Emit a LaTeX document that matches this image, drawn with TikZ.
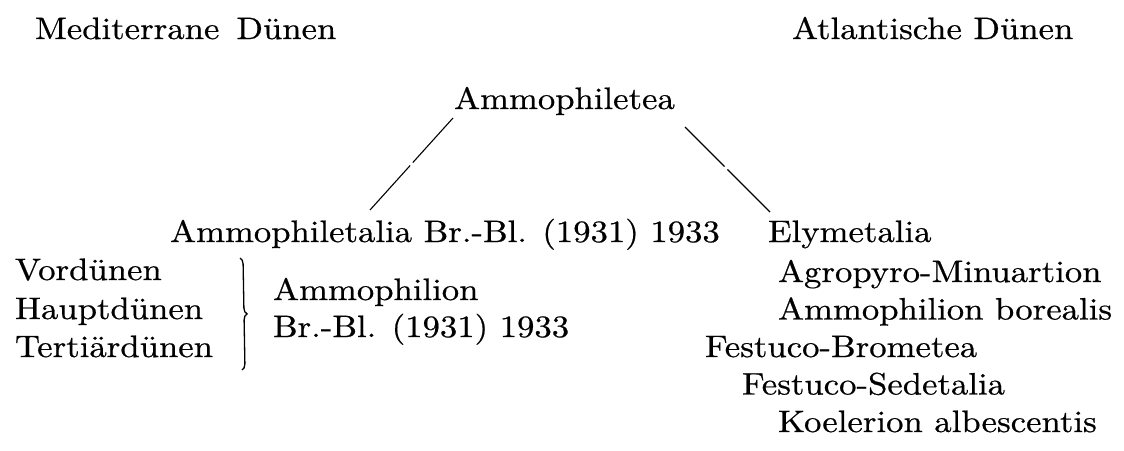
\documentclass[tikz,border=0pt]{standalone}
\usepackage{fontspec}
\newfontfamily\diafont{lmroman10-regular.otf}[FakeStretch=1.12,FakeBold=0.6]
\usetikzlibrary{decorations.pathreplacing}
\begin{document}
\begin{tikzpicture}[x=1pt,y=-1pt,
  lbl/.style={anchor=base west, inner sep=0pt, outer sep=0pt, font=\diafont\fontsize{31}{36}\selectfont},
  conn/.style={line width=1.1pt},
  brc/.style={decorate, decoration={brace, amplitude=6pt, aspect=0.5}, line width=1.3pt}]
\useasboundingbox (0,0) rectangle (1124,450);
% headings
\node[lbl] (med) at (35,39) {Mediterrane\hspace{0.55em}Dünen};
\node[lbl] (atl) at (792,39) {Atlantische Dünen};
% top
\node[lbl] (amm) at (454,109) {Ammophiletea};
\node[lbl] (ord) at (170,242) {Ammophiletalia Br.-Bl. (1931) 1933};
\node[lbl] (ely) at (768,242) {Elymetalia};
% left column
\node[lbl] (vor) at (15,280) {Vordünen};
\node[lbl] (hau) at (15,319) {Hauptdünen};
\node[lbl] (ter) at (15,357) {Tertiärdünen};
\node[lbl] (all) at (273,300) {Ammophilion};
\node[lbl] (aut) at (273,337) {Br.-Bl. (1931) 1933};
% right column
\node[lbl] (agr) at (778,282) {Agropyro-Minuartion};
\node[lbl] (bor) at (778,319.5) {Ammophilion borealis};
\node[lbl] (fbr) at (705,357) {Festuco-Brometea};
\node[lbl] (fse) at (742,394.5) {Festuco-Sedetalia};
\node[lbl] (koe) at (778,432) {Koelerion albescentis};
% connectors
\coordinate (l1) at (453,118);
\coordinate (l2) at (370,210);
\coordinate (r1) at (685,127);
\coordinate (r2) at (770,212);
\draw[conn, dash pattern=on 60pt off 4pt on 100pt] (l1) -- (l2);
\draw[conn, dash pattern=on 56pt off 4pt on 100pt] (r1) -- (r2);
% brace
\coordinate (b1) at (240,258);
\coordinate (b2) at (242,370);
\draw[brc] (b1) -- (b2);
\end{tikzpicture}
\end{document}
